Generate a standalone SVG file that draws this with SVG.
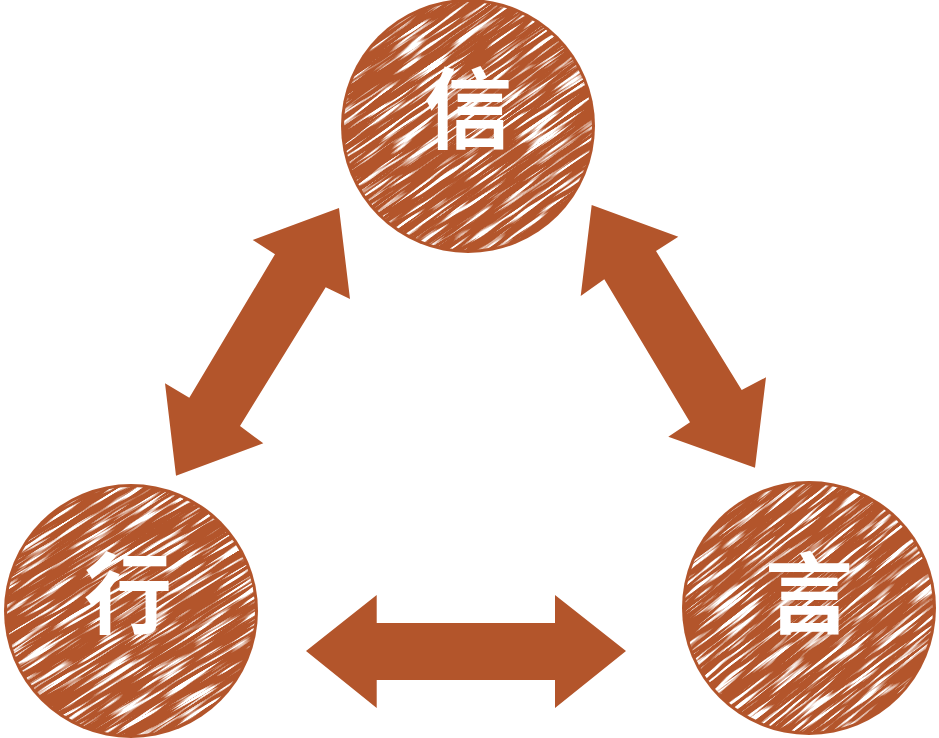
<svg xmlns="http://www.w3.org/2000/svg" width="939" height="738" viewBox="0 0 939 738">
  <style>
    .ball { fill: #B3552B; }
    .arrow { fill: #B3552B; }
    .label { fill: #FFFFFF; font-family: "Noto Sans CJK SC", "Noto Sans CJK JP", sans-serif; font-weight: 700; font-size: 88px; text-anchor: middle; }
  </style>
  <defs>
    <filter id="scribble" x="0" y="0" width="1" height="1" filterUnits="objectBoundingBox">
      <feTurbulence type="fractalNoise" baseFrequency="0.018 0.32" numOctaves="2" seed="3" result="n"/>
      <feColorMatrix in="n" type="matrix" values="0 0 0 0 1  0 0 0 0 1  0 0 0 0 1  7 0 0 0 -3.65"/>
    </filter>
    <clipPath id="clipTop"><circle cx="468" cy="126" r="124"/></clipPath>
    <clipPath id="clipLeft"><circle cx="131" cy="611" r="124"/></clipPath>
    <clipPath id="clipRight"><circle cx="809" cy="608" r="124"/></clipPath>
  </defs>

  <g id="connectors">
    <polygon class="arrow" points="306,651 376.7,595 376.7,623 555,623 555,595 626,651 555,708 555,680 376.7,680 376.7,708"/>
    <polygon class="arrow" points="339,208 350,299 325.7,287.3 240,426 263.3,443.3 176,475.7 165,383.3 189.3,397.7 275,254.3 252.7,240"/>
    <polygon class="arrow" points="591.7,205 678.3,236.7 656,251 741.7,390 766,377.3 755,467.7 668.3,436.7 690,422.3 604.3,279.3 580.7,296"/>
  </g>

  <g id="node-xin">
    <circle class="ball" cx="468" cy="126" r="127"/>
    <g clip-path="url(#clipTop)">
      <rect x="298" y="-44" width="340" height="340" transform="rotate(-35 468 126)" filter="url(#scribble)"/>
    </g>
    <text class="label" x="468" y="141">信</text>
  </g>

  <g id="node-xing">
    <circle class="ball" cx="131" cy="611" r="127"/>
    <g clip-path="url(#clipLeft)">
      <rect x="-39" y="441" width="340" height="340" transform="rotate(-32 131 611)" filter="url(#scribble)"/>
    </g>
    <text class="label" x="128" y="626">行</text>
  </g>

  <g id="node-yan">
    <circle class="ball" cx="809" cy="608" r="127"/>
    <g clip-path="url(#clipRight)">
      <rect x="639" y="438" width="340" height="340" transform="rotate(-38 809 608)" filter="url(#scribble)"/>
    </g>
    <text class="label" x="809" y="626">言</text>
  </g>
</svg>
